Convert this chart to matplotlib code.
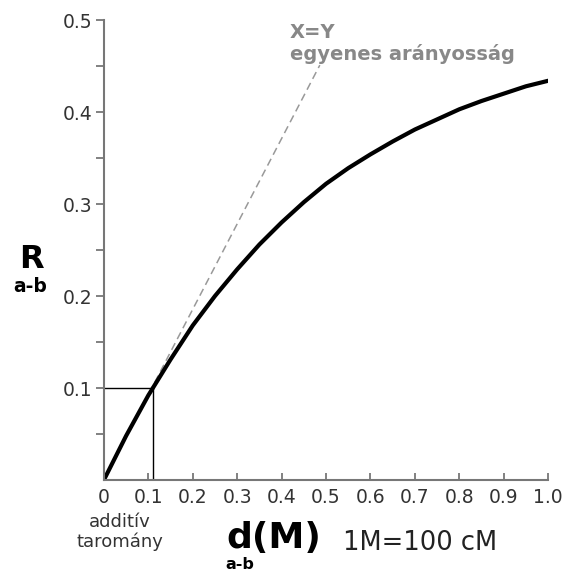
import matplotlib.pyplot as plt

# map distance d (Morgan) vs. recombination frequency R
d_values = [0, 0.05, 0.1, 0.15, 0.2, 0.25, 0.3, 0.35, 0.4, 0.45, 0.5,
            0.55, 0.6, 0.65, 0.7, 0.75, 0.8, 0.85, 0.9, 0.95, 1.0]
r_values = [0, 0.048, 0.092, 0.131, 0.168, 0.200, 0.229, 0.256, 0.280, 0.302, 0.322,
            0.339, 0.354, 0.368, 0.381, 0.392, 0.403, 0.412, 0.420, 0.428, 0.434]

# dashed "X=Y" reference line end points
ref_x = [0, 0.486]
ref_y = [0, 0.451]

# additive range corner
corner_x = 0.11
corner_y = 0.1

x_ticks = [0, 0.1, 0.2, 0.3, 0.4, 0.5, 0.6, 0.7, 0.8, 0.9, 1.0]
x_labels = ["0", "0.1", "0.2", "0.3", "0.4", "0.5", "0.6", "0.7", "0.8", "0.9", "1.0"]
y_ticks = [0.1, 0.2, 0.3, 0.4, 0.5]
y_labels = ["0.1", "0.2", "0.3", "0.4", "0.5"]
y_minor = [0.05, 0.15, 0.25, 0.35, 0.45]

W, H = 574, 573


def fx(px):
    return px / W


def fy(py):
    return 1 - py / H


fig = plt.figure(figsize=(5.74, 5.73), dpi=100)
ax = fig.add_axes([0.181, 0.1623, 0.774, 0.8027])

ax.plot(ref_x, ref_y, color="#999999", lw=1.1, ls=(0, (5, 3)))
ax.plot([0, corner_x], [corner_y, corner_y], color="black", lw=1)
ax.plot([corner_x, corner_x], [0, corner_y], color="black", lw=1)
ax.plot(d_values, r_values, color="black", lw=3, solid_capstyle="round")

ax.set_xlim(0, 1)
ax.set_ylim(0, 0.5)

for side in ["top", "right"]:
    ax.spines[side].set_visible(False)
for side in ["left", "bottom"]:
    ax.spines[side].set_color("#777777")
    ax.spines[side].set_linewidth(1.5)

ax.set_xticks(x_ticks)
ax.set_xticklabels(x_labels)
ax.set_yticks(y_ticks)
ax.set_yticklabels(y_labels)
ax.set_yticks(y_minor, minor=True)

ax.tick_params(axis="x", direction="in", length=5, width=1.3, color="#777777",
               labelsize=13.5, labelcolor="#333333", pad=6)
ax.tick_params(axis="y", which="both", direction="out", length=6, width=1.3,
               color="#777777", labelsize=13.5, labelcolor="#333333", pad=2)

# y label: R with a-b subscript
fig.text(fx(31), fy(268), "R", fontsize=23, fontweight="bold",
         ha="center", va="baseline")
fig.text(fx(30), fy(292), "a-b", fontsize=13.5, fontweight="bold",
         ha="center", va="baseline")

# x label
fig.text(fx(226), fy(548), "d(M)", fontsize=26, fontweight="bold",
         ha="left", va="baseline")
fig.text(fx(240), fy(569), "a-b", fontsize=11.5, fontweight="bold",
         ha="center", va="baseline")
fig.text(fx(343), fy(550), "1M=100 cM", fontsize=18.5,
         ha="left", va="baseline", color="#222222")

fig.text(fx(120), fy(527), "additív", fontsize=13,
         ha="center", va="baseline", color="#333333")
fig.text(fx(120), fy(547), "taromány", fontsize=13,
         ha="center", va="baseline", color="#333333")

fig.text(fx(290), fy(38), "X=Y", fontsize=14, fontweight="bold",
         ha="left", va="baseline", color="#888888")
fig.text(fx(290), fy(60), "egyenes arányosság", fontsize=14,
         fontweight="bold", ha="left", va="baseline", color="#888888")

fig.savefig("out.png", dpi=100)
